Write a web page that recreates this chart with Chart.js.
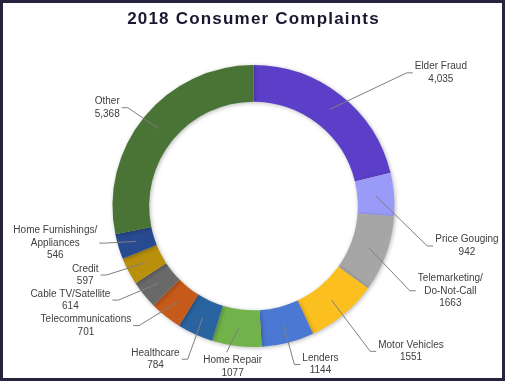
<!DOCTYPE html>
<html>
<head>
<meta charset="utf-8">
<script src="https://cdn.jsdelivr.net/npm/chart.js@4"></script>
<style>
  html, body { margin: 0; padding: 0; background: #fff; }
  #wrap { width: 507px; height: 383px; }
</style>
</head>
<body>
<div id="wrap"><canvas id="complaintsChart" width="507" height="383"></canvas></div>
<script>
const chartTitle = '2018 Consumer Complaints';
const categories = ['Elder Fraud', 'Price Gouging', ['Telemarketing/', 'Do-Not-Call'], 'Motor Vehicles', 'Lenders', 'Home Repair',
    'Healthcare', 'Telecommunications', 'Cable TV/Satellite', 'Credit', ['Home Furnishings/', 'Appliances'], 'Other'];
const complaints = [4035, 942, 1663, 1551, 1144, 1077, 784, 701, 614, 597, 546, 5368];
const valueLabels = ['4,035', '942', '1663', '1551', '1144', '1077', '784', '701', '614', '597', '546', '5,368'];

const sliceColors = ['#5b3fc8', '#9a9af8', '#a6a6a6', '#fbc020', '#4a78d2', '#72b24a',
    '#2a64a0', '#c65a1a', '#696969', '#b8900c', '#284a90', '#4a7435'];

// where each label sits: [degrees clockwise from 12 o'clock, distance in outer radii]
const labelSpots = [[54.6, 1.63], [100.6, 1.54], [113.3, 1.52], [132.7, 1.52], [157.1, 1.22], [187.4, 1.15],
    [212.6, 1.29], [234.5, 1.46], [242.8, 1.46], [247.7, 1.29], [259.4, 1.43], [303.9, 1.25]];

const decorations = {
    id: 'decorations',
    beforeDraw(chart) {
        const c = chart.ctx;
        c.save();
        c.fillStyle = '#ffffff';
        c.fillRect(0, 0, chart.width, chart.height);
        c.fillStyle = '#1a1830';
        c.font = 'bold 17px "Liberation Sans", Arial, sans-serif';
        c.letterSpacing = '1.2px';
        c.textAlign = 'center';
        c.textBaseline = 'middle';
        c.fillText(chartTitle, chart.width / 2, 19);
        c.restore();
    },
    beforeDatasetsDraw(chart) {
        // soft shadow like the original's bevelled ring
        const c = chart.ctx;
        c.save();
        c.shadowColor = 'rgba(0, 0, 0, 0.28)';
        c.shadowBlur = 4;
        c.shadowOffsetX = 1;
        c.shadowOffsetY = 1;
    },
    afterDatasetsDraw(chart) {
        const c = chart.ctx;
        c.restore();
        const meta = chart.getDatasetMeta(0);
        c.save();
        c.font = '10px "Liberation Sans", Arial, sans-serif';
        c.textAlign = 'center';
        c.textBaseline = 'middle';
        meta.data.forEach((arc, i) => {
            const p = arc.getProps(['x', 'y', 'startAngle', 'endAngle', 'innerRadius', 'outerRadius'], true);
            const mid = (p.startAngle + p.endAngle) / 2;
            const rMid = (p.innerRadius + p.outerRadius) / 2;
            const sx = p.x + Math.cos(mid) * rMid;
            const sy = p.y + Math.sin(mid) * rMid;

            const [deg, rf] = labelSpots[i];
            const a = (deg - 90) * Math.PI / 180;
            const lx = p.x + Math.cos(a) * p.outerRadius * rf;
            const ly = p.y + Math.sin(a) * p.outerRadius * rf;

            const lines = [].concat(categories[i], valueLabels[i]);
            const lh = 12.5;
            const w = Math.max(...lines.map(t => c.measureText(t).width));
            const h = lines.length * lh;

            let ex, ey, tx, ty;
            const dx = lx - sx;
            if (Math.abs(dx) > w * 0.3) {
                const side = dx > 0 ? -1 : 1;
                tx = lx + side * (w / 2 + 2);
                ty = ly;
                ex = tx + side * 6;
                ey = ly;
            } else {
                ex = lx - 6;
                ey = ly - h / 2 - 2;
                tx = ex;
                ty = ey;
            }
            c.strokeStyle = '#7f7f7f';
            c.lineWidth = 1;
            c.beginPath();
            c.moveTo(sx, sy);
            c.lineTo(ex, ey);
            c.lineTo(tx, ty);
            c.stroke();

            c.fillStyle = '#404040';
            lines.forEach((t, k) => c.fillText(t, lx, ly - h / 2 + lh * (k + 0.5)));
        });

        c.strokeStyle = '#27233f';
        c.lineWidth = 3;
        c.strokeRect(1.5, 1.5, 502, 378);
        c.restore();
    }
};

const ctx = document.getElementById('complaintsChart').getContext('2d');
window.complaintsChart = new Chart(ctx, {
    type: 'doughnut',
    data: {
        labels: categories,
        datasets: [{
            data: complaints,
            backgroundColor: sliceColors,
            borderWidth: 0
        }]
    },
    options: {
        responsive: false,
        animation: false,
        cutout: '74%',
        layout: { padding: { top: 65, bottom: 36, left: 0, right: 0 } },
        plugins: {
            legend: { display: false },
            tooltip: { enabled: false },
            title: { display: false }
        }
    },
    plugins: [decorations]
});
</script>
</body>
</html>
